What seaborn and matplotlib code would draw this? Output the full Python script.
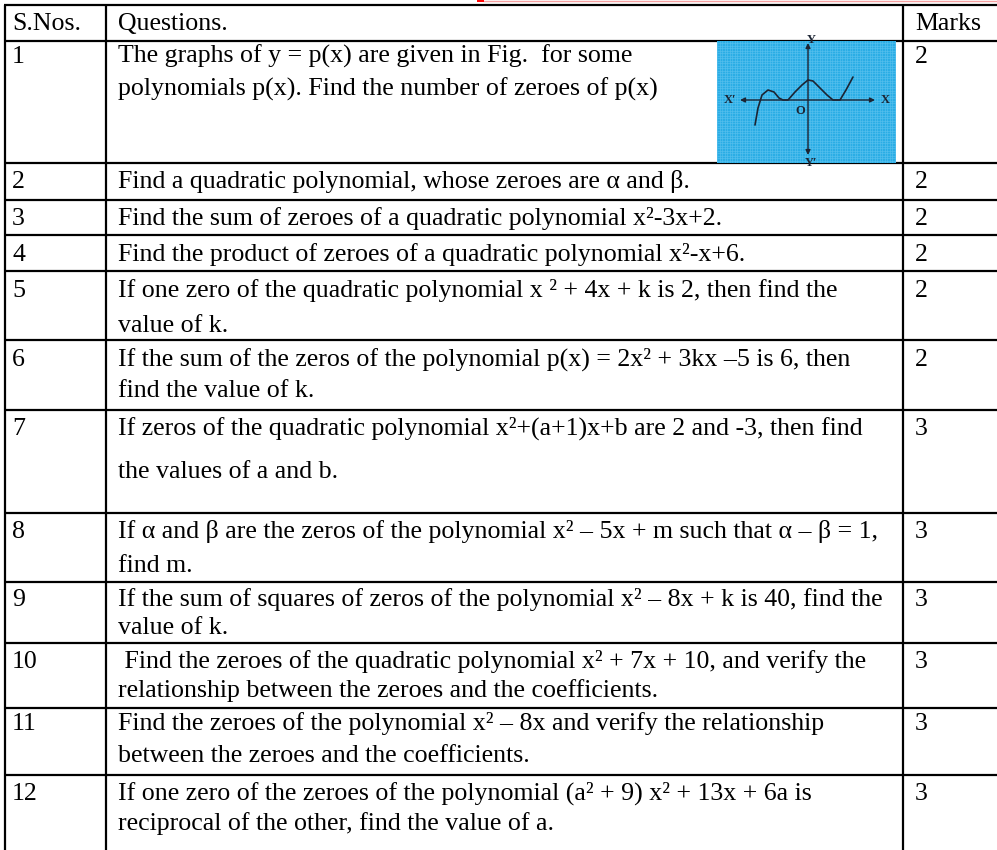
import matplotlib
matplotlib.use("Agg")
import numpy as np
import matplotlib.pyplot as plt
import seaborn as sns

# ---- table content ----
headers = ["S.Nos.", "Questions.", "Marks"]
serials = [str(i) for i in range(1, 13)]
questions = [
    ["The graphs of y = p(x) are given in Fig.  for some",
     "polynomials p(x). Find the number of zeroes of p(x)"],
    ["Find a quadratic polynomial, whose zeroes are α and β."],
    ["Find the sum of zeroes of a quadratic polynomial x²-3x+2."],
    ["Find the product of zeroes of a quadratic polynomial x²-x+6."],
    ["If one zero of the quadratic polynomial x ² + 4x + k is 2, then find the",
     "value of k."],
    ["If the sum of the zeros of the polynomial p(x) = 2x² + 3kx –5 is 6, then",
     "find the value of k."],
    ["If zeros of the quadratic polynomial x²+(a+1)x+b are 2 and -3, then find",
     "the values of a and b."],
    ["If α and β are the zeros of the polynomial x² – 5x + m such that α – β = 1,",
     "find m."],
    ["If the sum of squares of zeros of the polynomial x² – 8x + k is 40, find the",
     "value of k."],
    [" Find the zeroes of the quadratic polynomial x² + 7x + 10, and verify the",
     "relationship between the zeroes and the coefficients."],
    ["Find the zeroes of the polynomial x² – 8x and verify the relationship",
     "between the zeroes and the coefficients."],
    ["If one zero of the zeroes of the polynomial (a² + 9) x² + 13x + 6a is",
     "reciprocal of the other, find the value of a."],
]
marks = [2, 2, 2, 2, 2, 2, 3, 3, 3, 3, 3, 3]

# small graph of y = p(x) in question 1 (origin at O)
graph_x = [-53, -50, -46, -40, -34, -29, -25, -20, -13, -6, 0, 5, 12, 19, 25, 32, 38, 45]
graph_y = [-25, -8, 5, 10, 8, 2, 0, 0, 8, 15, 20, 19, 12, 5, 0, 0, 10, 23]

# ---- layout (pixels) ----
W, H = 997, 850
col_rules = [5, 106, 903]
row_rules = [5, 41, 163, 200, 235, 271, 340, 410, 513, 582, 643, 708, 775]
first_off = [22, 25, 25, 26, 26, 26, 25, 25, 24, 25, 22, 25]
line_gap = [33, 0, 0, 0, 35, 31, 43, 34, 28, 29, 32, 30]
text_x = [12, 118, 915]

sns.set_theme(style="white")
plt.rcParams["font.family"] = ["Liberation Serif", "DejaVu Serif"]
FS = 18.6
TXT = dict(fontsize=FS, va="baseline", ha="left", color="black")

fig = plt.figure(figsize=(W / 100, H / 100), dpi=100)
ax = fig.add_axes([0, 0, 1, 1])
ax.set_xlim(0, W)
ax.set_ylim(H, 0)
ax.axis("off")

# rules
ax.hlines(row_rules, col_rules[0] - 1, W, color="black", lw=1.6)
ax.vlines(col_rules, row_rules[0], H, color="black", lw=1.6)
# faint red line above the table
ax.hlines(0.8, 483, W, color="#f4a0a0", lw=1.0)
ax.hlines(0.8, 477, 484, color="red", lw=1.4)

# header
for x, h in zip(text_x, headers):
    ax.text(x, row_rules[0] + 25, h, **TXT)

# rows
for i, (s, q, m) in enumerate(zip(serials, questions, marks)):
    base = row_rules[i + 1] + first_off[i]
    ax.text(text_x[0], base, s, **TXT)
    ax.text(text_x[2], base, str(m), **TXT)
    for j, line in enumerate(q):
        ax.text(text_x[1], base + j * line_gap[i], line, **TXT)

# inset figure for question 1
x0, x1, y0, y1 = 717, 896, 41, 163
ax_in = fig.add_axes([x0 / W, 1 - y1 / H, (x1 - x0) / W, (y1 - y0) / H])
ox, oy = 808, 100
ax_in.set_xlim(x0 - ox, x1 - ox)
ax_in.set_ylim(oy - y1, oy - y0)
ax_in.set_facecolor("#2aade5")
ax_in.set_xticks(np.arange(x0 - ox, x1 - ox, 2.5))
ax_in.set_yticks(np.arange(oy - y1, oy - y0, 2.5))
ax_in.grid(True, color="#5cc2ee", lw=0.4)
ax_in.tick_params(length=0, labelbottom=False, labelleft=False)
for sp in ax_in.spines.values():
    sp.set_visible(False)

axis_col = "#1c2433"
ax_in.annotate("", xy=(67, 0), xytext=(-68, 0),
               arrowprops=dict(arrowstyle="<|-|>", color=axis_col, lw=1.0,
                               mutation_scale=7, shrinkA=0, shrinkB=0))
ax_in.annotate("", xy=(0, 57), xytext=(0, -55),
               arrowprops=dict(arrowstyle="<|-|>", color=axis_col, lw=1.0,
                               mutation_scale=7, shrinkA=0, shrinkB=0))
sns.lineplot(x=graph_x, y=graph_y, ax=ax_in, color=axis_col, lw=1.2,
             sort=False, estimator=None)
lab = dict(color=axis_col, fontsize=9, fontweight="bold", ha="center", va="center")
ax_in.text(-78, 0, "X′", **lab)
ax_in.text(77, 0, "X", **lab)
ax_in.text(3, 60, "Y", **lab)
ax_in.text(3, -63, "Y′", **lab)
ax_in.text(-8, -11, "O", **lab)

fig.savefig("out.png", dpi=100)
